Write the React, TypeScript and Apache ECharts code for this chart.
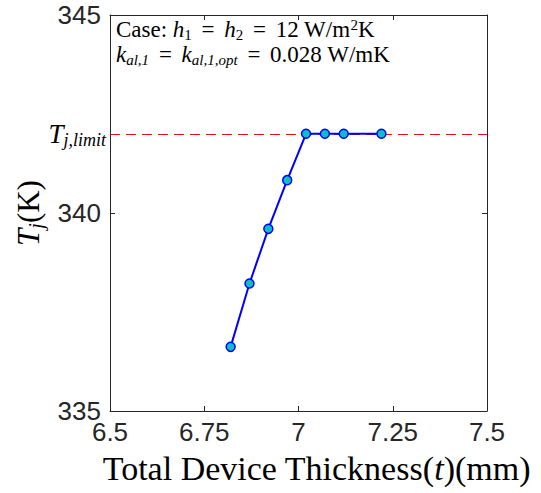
import React, { useEffect, useRef } from "react";
import * as echarts from "echarts";

const thickness = [6.82, 6.87, 6.92, 6.97, 7.02, 7.07, 7.12, 7.22];
const tj = [336.62, 338.22, 339.6, 340.83, 342.0, 342.0, 342.0, 342.0];
const tjLimit = 342;
const xTicks = { min: 6.5, max: 7.5, interval: 0.25 };
const yTicks = { min: 335, max: 345, interval: 5 };

const SERIF = "'Liberation Serif', 'Times New Roman', serif";
const SANS = "'Liberation Sans', Arial, Helvetica, sans-serif";
const AX = "#262626";

export default function App() {
  const ref = useRef<HTMLDivElement>(null);
  useEffect(() => {
    if (!ref.current) return;
    const chart = echarts.init(ref.current, undefined, { renderer: "svg" });
    const mainSize = 23;
    const subSize = 15;
    const annotRich: any = {
      n: { fontFamily: SERIF, fontSize: mainSize, lineHeight: 25, verticalAlign: "middle", color: "#000" },
      e: { fontFamily: SERIF, fontSize: mainSize, lineHeight: 25, verticalAlign: "middle", color: "#000", padding: [0, 4, 0, 4] },
      i: { fontFamily: SERIF, fontSize: mainSize, fontStyle: "italic", lineHeight: 25, verticalAlign: "middle", color: "#000" },
      s: { fontFamily: SERIF, fontSize: subSize, fontStyle: "italic", lineHeight: 14, verticalAlign: "bottom", color: "#000" },
      sn: { fontFamily: SERIF, fontSize: subSize, lineHeight: 14, verticalAlign: "bottom", color: "#000" },
      sup: { fontFamily: SERIF, fontSize: subSize, lineHeight: 14, verticalAlign: "top", color: "#000" },
    };
    const line1 = "{n|Case: }{i|h}{sn|1}{e| = }{i|h}{sn|2}{e| = }{n|12 W/m}{sup|2}{n|K}";
    const line2 = "{i|k}{s|al,1}{e| = }{i|k}{s|al,1,opt}{e| = }{n|0.028 W/mK}";

    const option: any = {
      animation: false,
      backgroundColor: "#fff",
      grid: { left: 110, right: 54, top: 15, bottom: 82, containLabel: false },
      xAxis: [
        {
          type: "value",
          min: xTicks.min,
          max: xTicks.max,
          interval: xTicks.interval,
          position: "bottom",
          axisLine: { show: true, onZero: false, lineStyle: { color: AX, width: 1 } },
          axisTick: { show: true, inside: true, length: 5, lineStyle: { color: AX } },
          splitLine: { show: false },
          axisLabel: { fontFamily: SANS, fontSize: 26, color: AX, margin: 8 },
          name: "Total Device Thickness({i|t})(mm)",
          nameLocation: "middle",
          nameGap: 40,
          nameTextStyle: {
            fontFamily: SERIF,
            fontSize: 34,
            color: "#000",
            padding: [0, 0, 0, 36],
            rich: { i: { fontFamily: SERIF, fontSize: 34, fontStyle: "italic", color: "#000" } },
          },
        },
        {
          type: "value",
          min: xTicks.min,
          max: xTicks.max,
          interval: xTicks.interval,
          position: "top",
          axisLine: { show: true, onZero: false, lineStyle: { color: AX, width: 1 } },
          axisTick: { show: true, inside: true, length: 5, lineStyle: { color: AX } },
          splitLine: { show: false },
          axisLabel: { show: false },
        },
      ],
      yAxis: [
        {
          type: "value",
          min: yTicks.min,
          max: yTicks.max,
          interval: yTicks.interval,
          position: "left",
          axisLine: { show: true, onZero: false, lineStyle: { color: AX, width: 1 } },
          axisTick: { show: true, inside: true, length: 5, lineStyle: { color: AX } },
          splitLine: { show: false },
          axisLabel: { fontFamily: SANS, fontSize: 26, color: AX, margin: 9 },
          name: "{i|T}{s|j}{n|(K)}",
          nameLocation: "middle",
          nameGap: 64,
          nameRotate: 90,
          nameTextStyle: {
            rich: {
              i: { fontFamily: SERIF, fontSize: 31, fontStyle: "italic", color: "#000", lineHeight: 36, verticalAlign: "middle" },
              s: { fontFamily: SERIF, fontSize: 20, fontStyle: "italic", color: "#000", lineHeight: 20, verticalAlign: "bottom" },
              n: { fontFamily: SERIF, fontSize: 31, color: "#000", lineHeight: 36, verticalAlign: "middle" },
            },
          },
        },
        {
          type: "value",
          min: yTicks.min,
          max: yTicks.max,
          interval: yTicks.interval,
          position: "right",
          axisLine: { show: true, onZero: false, lineStyle: { color: AX, width: 1 } },
          axisTick: { show: true, inside: true, length: 5, lineStyle: { color: AX } },
          splitLine: { show: false },
          axisLabel: { show: false },
        },
      ],
      series: [
        {
          type: "line",
          xAxisIndex: 0,
          yAxisIndex: 0,
          data: thickness.map((x, k) => [x, tj[k]]),
          lineStyle: { color: "#0000FF", width: 2 },
          symbol: "circle",
          symbolSize: 9,
          itemStyle: { color: "#0BBFC2", borderColor: "#0000FF", borderWidth: 1.5 },
          z: 5,
          markLine: {
            silent: true,
            symbol: "none",
            lineStyle: { color: "#E8101A", width: 1.2, type: [10, 6] },
            label: {
              show: true,
              position: "start",
              distance: 4,
              formatter: "{i|T}{s|j,limit}",
              rich: {
                i: { fontFamily: SERIF, fontSize: 27, fontStyle: "italic", color: "#000", lineHeight: 30, verticalAlign: "middle" },
                s: { fontFamily: SERIF, fontSize: 18, fontStyle: "italic", color: "#000", lineHeight: 17, verticalAlign: "bottom" },
              },
            },
            data: [{ yAxis: tjLimit }],
            z: 3,
          },
        },
      ],
      graphic: [
        {
          type: "text",
          left: 116,
          top: 17,
          style: { text: line1 + "\n" + line2, rich: annotRich, lineHeight: 25 },
        },
      ],
    };
    chart.setOption(option);
    return () => chart.dispose();
  }, []);
  return (
    <div
      ref={ref}
      style={{ position: "fixed", left: 0, top: 0, width: 541, height: 493, background: "#fff" }}
    />
  );
}
